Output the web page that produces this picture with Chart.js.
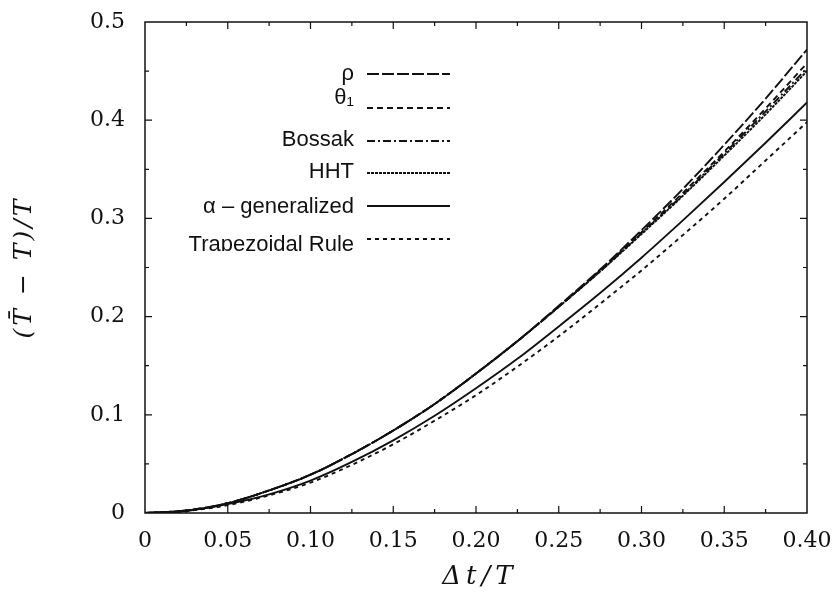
<!DOCTYPE html>
<html lang="en">
<head>
  <meta charset="UTF-8">
  <title>Period elongation</title>
  <script src="https://cdn.jsdelivr.net/npm/chart.js@4"></script>
  <style>
    html, body { margin: 0; padding: 0; background: #fff; }
    canvas { display: block; }
  </style>
</head>
<body>
  <canvas id="periodChart" width="836" height="609"></canvas>

  <script>
    // time step ratio Δt/T
    const dtRatio = [0, 0.025, 0.05, 0.075, 0.10, 0.125, 0.15, 0.175, 0.20,
                     0.225, 0.25, 0.275, 0.30, 0.325, 0.35, 0.375, 0.40];

    // relative period error (T̄ - T)/T for each scheme
    const rhoErr    = [0, 0.0025, 0.010, 0.023, 0.039, 0.060, 0.084, 0.111, 0.142, 0.175, 0.211, 0.248, 0.288, 0.330, 0.375, 0.422, 0.472];
    const theta1Err = [0, 0.0025, 0.010, 0.023, 0.039, 0.060, 0.084, 0.111, 0.142, 0.175, 0.210, 0.247, 0.286, 0.326, 0.368, 0.412, 0.458];
    const bossakErr = [0, 0.0025, 0.010, 0.023, 0.039, 0.060, 0.084, 0.111, 0.142, 0.175, 0.210, 0.246, 0.285, 0.324, 0.366, 0.409, 0.453];
    const hhtErr    = [0, 0.0025, 0.010, 0.023, 0.039, 0.060, 0.084, 0.111, 0.142, 0.175, 0.210, 0.246, 0.284, 0.323, 0.364, 0.406, 0.450];
    const alphaErr  = [0, 0.002, 0.009, 0.019, 0.033, 0.052, 0.074, 0.099, 0.127, 0.157, 0.190, 0.224, 0.260, 0.298, 0.337, 0.377, 0.418];
    const trapErr   = [0, 0.002, 0.008, 0.018, 0.031, 0.049, 0.070, 0.094, 0.120, 0.149, 0.180, 0.213, 0.247, 0.283, 0.320, 0.359, 0.398];

    const xTickLabels = ['0', '0.05', '0.10', '0.15', '0.20', '0.25', '0.30', '0.35', '0.40'];
    const yTickLabels = ['0', '0.1', '0.2', '0.3', '0.4', '0.5'];

    const seriesLabels = ['ρ', 'θ₁', 'Bossak', 'HHT', 'α – generalized', 'Trapezoidal Rule'];
    const seriesValues = [rhoErr, theta1Err, bossakErr, hhtErr, alphaErr, trapErr];
    const seriesDash = [[12, 3], [6, 4], [8, 3, 2, 3], [3, 1], [], [4, 4]];

    const xTitle = 'Δt/T';
    const yTitle = '(T̄ − T)/T';

    const ink = '#111';
    const serif = "'DejaVu Serif', 'Liberation Serif', serif";

    const datasets = seriesLabels.map((label, i) => ({
      label: label,
      data: dtRatio.map((x, j) => ({ x: x, y: seriesValues[i][j] })),
      borderColor: ink,
      borderWidth: 1.9,
      borderDash: seriesDash[i],
      pointRadius: 0,
      fill: false,
      cubicInterpolationMode: 'monotone'
    }));

    // box around the plot with inward ticks on all four sides
    const frame = {
      id: 'frame',
      afterDatasetsDraw(chart) {
        const { ctx, chartArea: a, scales } = chart;
        const xs = scales.x, ys = scales.y;
        ctx.save();
        ctx.strokeStyle = ink;
        ctx.lineWidth = 1.5;
        ctx.strokeRect(a.left, a.top, a.right - a.left, a.bottom - a.top);
        ctx.lineWidth = 1.2;
        ctx.beginPath();
        for (let k = 1; k < 16; k++) {
          const px = xs.getPixelForValue(k * 0.025);
          const len = k % 2 === 0 ? 7 : 4;
          ctx.moveTo(px, a.bottom); ctx.lineTo(px, a.bottom - len);
          ctx.moveTo(px, a.top); ctx.lineTo(px, a.top + len);
        }
        for (let k = 1; k < 10; k++) {
          const py = ys.getPixelForValue(k * 0.05);
          const len = k % 2 === 0 ? 7 : 4;
          ctx.moveTo(a.left, py); ctx.lineTo(a.left + len, py);
          ctx.moveTo(a.right, py); ctx.lineTo(a.right - len, py);
        }
        ctx.stroke();
        ctx.restore();
      }
    };

    // axis titles, spaced out a little like TeX output
    const axisTitles = {
      id: 'axisTitles',
      afterDraw(chart) {
        const { ctx, chartArea: a } = chart;
        ctx.save();
        ctx.fillStyle = ink;
        ctx.font = 'italic 26px ' + serif;
        ctx.letterSpacing = '5px';
        ctx.textAlign = 'center';
        ctx.textBaseline = 'middle';
        ctx.fillText(xTitle, (a.left + a.right) / 2 + 4, 577);
        ctx.translate(24, (a.top + a.bottom) / 2);
        ctx.rotate(-Math.PI / 2);
        ctx.font = 'italic 25px ' + serif;
        ctx.letterSpacing = '3px';
        ctx.fillText(yTitle, 0, 0);
        ctx.restore();
      }
    };

    // legend drawn inside the plot: label on the left, line sample on the right
    const innerLegend = {
      id: 'innerLegend',
      afterDatasetsDraw(chart) {
        const ctx = chart.ctx;
        const textY = [74, 98, 140, 172, 207, 245];
        const lineY = [74, 108, 141, 173, 206, 239];
        ctx.save();
        ctx.beginPath();
        ctx.rect(150, 40, 320, 211);
        ctx.clip();
        ctx.fillStyle = ink;
        ctx.font = "22px 'Liberation Sans', Arial, sans-serif";
        ctx.textAlign = 'right';
        ctx.textBaseline = 'middle';
        chart.data.datasets.forEach((ds, i) => {
          ctx.fillText(ds.label, 354, textY[i]);
          ctx.beginPath();
          ctx.setLineDash(ds.borderDash);
          ctx.strokeStyle = ink;
          ctx.lineWidth = 2;
          ctx.moveTo(367, lineY[i]);
          ctx.lineTo(450, lineY[i]);
          ctx.stroke();
        });
        ctx.restore();
      }
    };

    new Chart(document.getElementById('periodChart'), {
      type: 'line',
      data: { datasets: datasets },
      options: {
        responsive: false,
        animation: false,
        layout: { padding: { top: 22, right: 29, bottom: 0, left: 0 } },
        plugins: {
          legend: { display: false },
          tooltip: { enabled: false }
        },
        scales: {
          x: {
            type: 'linear',
            min: 0,
            max: 0.40,
            afterFit(scale) {
              scale.height = 96;
              scale.paddingLeft = 0;
              scale.paddingRight = 0;
            },
            afterBuildTicks(scale) {
              scale.ticks = xTickLabels.map(t => ({ value: parseFloat(t) }));
            },
            grid: { display: false, drawTicks: false },
            border: { display: false },
            ticks: {
              padding: 15,
              color: ink,
              maxRotation: 0,
              font: { family: serif, size: 22 },
              callback: (v) => xTickLabels.find(t => parseFloat(t) === v) || ''
            }
          },
          y: {
            min: 0,
            max: 0.5,
            afterFit(scale) {
              scale.width = 145;
              scale.paddingTop = 0;
              scale.paddingBottom = 0;
            },
            afterBuildTicks(scale) {
              scale.ticks = yTickLabels.map(t => ({ value: parseFloat(t) }));
            },
            grid: { display: false, drawTicks: false },
            border: { display: false },
            ticks: {
              padding: 20,
              color: ink,
              font: { family: serif, size: 22 },
              callback: (v) => yTickLabels.find(t => parseFloat(t) === v) || ''
            }
          }
        }
      },
      plugins: [frame, innerLegend, axisTitles]
    });
  </script>
</body>
</html>
